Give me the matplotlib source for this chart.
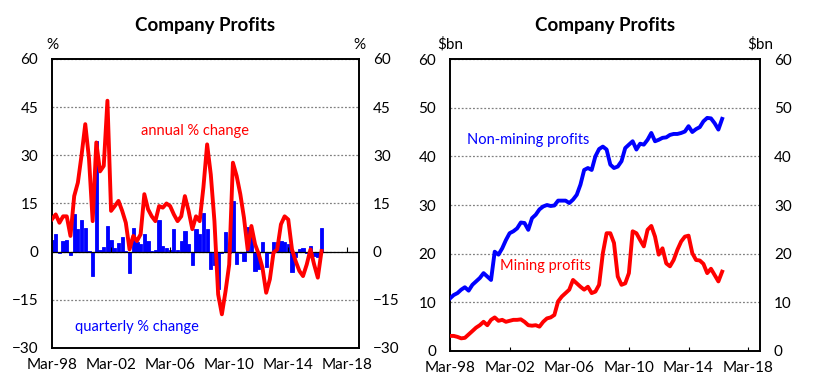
import matplotlib
matplotlib.use("Agg")
import matplotlib.pyplot as plt
import pandas as pd

plt.rcParams['font.family'] = ['Lato', 'DejaVu Sans']

# quarterly observations, Mar-98 to Jun-16
quarters = pd.date_range('1998-03-01', periods=74, freq='3MS')

# left panel: company profits, % change
annual_chg = [10.1, 11.6, 9.0, 11.0, 11.0, 4.9, 17.3, 21.5, 30.0, 39.7,
              29.0, 9.5, 34.0, 25.0, 26.7, 47.0, 12.7, 14.2, 15.8, 12.7,
              9.0, 0.7, 4.9, 3.3, 5.4, 17.9, 13.2, 11.0, 9.5, 14.2,
              13.7, 15.0, 14.2, 11.6, 9.5, 11.0, 17.3, 12.7, 7.0, 11.0,
              9.5, 20.0, 33.4, 24.0, 9.5, -13.3, -19.5, -12.3, -4.0, 27.7,
              23.6, 17.9, 10.6, 0.7, 8.0, 2.3, -0.8, -5.0, -12.8, -8.6,
              -0.3, 0.7, 8.5, 11.0, 10.0, 0.7, -3.0, -6.0, -7.6, -4.0,
              0.7, -4.0, -8.1, 0.2]
quarterly_chg = [3.5, 5.5, -0.5, 3.3, 3.5, -1.0, 11.6, 7.0, 10.0, 7.5,
                 0.3, -7.6, 34.5, 0.5, 1.5, 8.0, 3.5, 1.2, 2.8, 4.6,
                 0.2, -6.5, 7.5, 3.0, 2.5, 5.4, 3.3, 0.3, 0.5, 10.0,
                 1.8, 1.2, 0.5, 7.0, 0.5, 3.3, 6.4, 2.3, -4.0, 7.0,
                 5.4, 12.1, 7.0, -5.5, -4.0, -11.7, -0.5, 6.0, -0.3, 15.8,
                 -3.8, -0.5, -2.8, 7.6, 5.0, -6.0, -5.4, 2.9, -4.9, -0.5,
                 3.1, 3.1, 3.3, 2.9, 2.4, -6.4, -1.8, 0.8, 1.0, -0.5,
                 1.9, -1.2, -1.8, 7.4]

# right panel: company profits, $bn
non_mining = [10.8, 11.5, 11.9, 12.6, 13.1, 12.4, 13.6, 14.3, 15.0, 16.0,
              15.3, 14.6, 20.4, 19.8, 21.1, 22.8, 24.2, 24.6, 25.2, 26.4,
              26.3, 24.9, 27.3, 28.0, 29.1, 29.7, 30.0, 29.8, 29.9, 30.9,
              30.9, 30.9, 30.4, 31.1, 32.1, 34.2, 37.2, 37.6, 37.2, 40.0,
              41.5, 42.0, 41.4, 38.3, 37.6, 37.9, 39.0, 41.7, 42.4, 43.1,
              41.4, 42.6, 42.4, 43.4, 44.8, 43.1, 43.4, 43.8, 43.9, 44.4,
              44.6, 44.6, 44.8, 45.1, 46.2, 45.0, 45.6, 46.0, 47.2, 47.9,
              47.8, 46.8, 45.5, 47.7]
mining = [3.1, 3.1, 2.9, 2.6, 2.7, 3.4, 4.1, 4.8, 5.3, 6.0,
          5.3, 6.4, 6.9, 6.2, 6.4, 6.0, 6.2, 6.4, 6.4, 6.5,
          6.0, 5.3, 5.2, 5.3, 5.0, 6.0, 6.7, 6.9, 7.4, 10.2,
          11.2, 11.9, 12.6, 14.6, 13.9, 13.2, 12.6, 13.2, 11.9, 12.2,
          13.6, 20.1, 24.2, 24.2, 22.2, 15.3, 13.6, 13.9, 16.0, 24.6,
          24.2, 22.8, 21.5, 24.9, 25.7, 23.5, 19.8, 21.1, 18.0, 17.4,
          18.7, 20.8, 22.5, 23.5, 23.7, 20.1, 18.7, 18.6, 17.9, 16.0,
          16.9, 15.6, 14.3, 16.3]

tick_dates = pd.date_range('1998-03-01', '2018-03-01', freq='48MS')
tick_labels = [d.strftime('%b-%y') for d in tick_dates]
x_end = pd.Timestamp('2018-12-15')

RED = '#ff0000'
BLUE = '#0000ff'
FS = 11


def style_axes(ax, yticks, unit, title):
    """Frame, grid, ticks and labels shared by both panels"""
    ax.set_xlim(quarters[0], x_end)
    ax.set_ylim(yticks[0], yticks[-1])
    ax.set_yticks(yticks)
    ax.set_xticks(tick_dates)
    ax.set_xticklabels(tick_labels)
    ax.tick_params(axis='y', length=0, labelsize=FS, labelright=True, pad=10)
    ax.tick_params(axis='x', direction='in', length=3, labelsize=FS, pad=7)
    ax.grid(axis='y', color='#808080', linestyle=(0, (1.5, 1.5)), linewidth=0.9)
    ax.set_axisbelow(True)
    for sp in ax.spines.values():
        sp.set_linewidth(1.4)
        sp.set_color('black')
    ax.set_title(title, fontsize=13.5, fontweight='bold', pad=20)
    ax.text(0.0, 1.025, unit, transform=ax.transAxes, fontsize=FS, ha='center', va='bottom')
    ax.text(1.0, 1.025, unit, transform=ax.transAxes, fontsize=FS, ha='center', va='bottom')


fig = plt.figure(figsize=(8.15, 3.89), dpi=100)

# left panel
ax1 = fig.add_axes([0.0638, 0.1054, 0.3767, 0.743])
ax1.bar(quarters, quarterly_chg, width=80, color=BLUE, edgecolor=BLUE,
        linewidth=0.6, zorder=2)
ax1.axhline(0, color='black', linewidth=0.9, zorder=2.5)
ax1.plot(quarters, annual_chg, color=RED, linewidth=2.8, zorder=3)
style_axes(ax1, [-30, -15, 0, 15, 30, 45, 60], '%', 'Company Profits')
ax1.tick_params(axis='x', length=0)
# small tick marks sit on the zero line
ax1.vlines(tick_dates, 0, 1.3, color='black', linewidth=0.8, zorder=2.6)
ax1.text(pd.Timestamp('2007-11-01'), 37.6, 'annual % change', color=RED,
         fontsize=10.5, ha='center', va='center')
ax1.text(pd.Timestamp('2003-12-01'), -23.5, 'quarterly % change', color=BLUE,
         fontsize=10.5, ha='center', va='center')

# right panel
ax2 = fig.add_axes([0.5521, 0.0977, 0.3804, 0.7506])
ax2.plot(quarters, non_mining, color=BLUE, linewidth=2.8, zorder=3)
ax2.plot(quarters, mining, color=RED, linewidth=2.8, zorder=3)
style_axes(ax2, [0, 10, 20, 30, 40, 50, 60], '$bn', 'Company Profits')
ax2.text(pd.Timestamp('2003-06-01'), 43.4, 'Non-mining profits', color=BLUE,
         fontsize=10.5, ha='center', va='center')
ax2.text(pd.Timestamp('2004-08-01'), 17.5, 'Mining profits', color=RED,
         fontsize=10.5, ha='center', va='center')

fig.savefig('out.png', dpi=100)
